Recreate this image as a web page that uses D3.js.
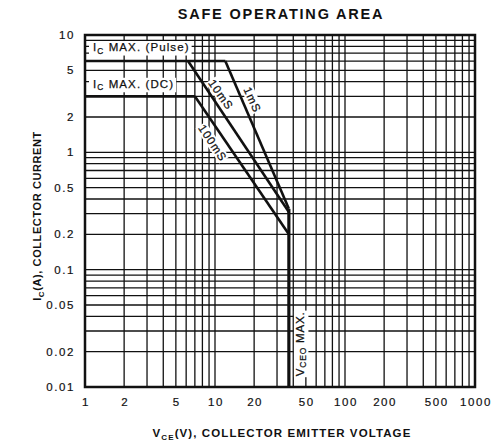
<!DOCTYPE html>
<html>
<head>
<meta charset="utf-8">
<script src="https://cdn.jsdelivr.net/npm/d3@7"></script>
<style>
  body { margin: 0; background: #fff; }
  text { font-family: "Liberation Sans", Arial, sans-serif; fill: #111; }
</style>
</head>
<body>
<div id="chart"></div>
<script>
// tick labels
var xTicks = [1, 2, 5, 10, 20, 50, 100, 200, 500, 1000];
var yTicks = [0.01, 0.02, 0.05, 0.1, 0.2, 0.5, 1, 2, 5, 10];

// boundary curves (VCE, IC)
var pulseMax = [[1, 6], [12, 6]];
var dcMax = [[1, 3], [7, 3]];
var line1ms = [[12, 6], [37, 0.33]];
var line10ms = [[6.2, 6], [37, 0.31]];
var line100ms = [[7, 3], [37, 0.2]];
var vceoMax = [[37, 0.33], [37, 0.01]];

svgWidth = 499;
svgHeight = 444;

margin = { top: 35, bottom: 57, left: 85, right: 24 };

width = svgWidth - margin.left - margin.right;
height = svgHeight - margin.top - margin.bottom;

svg = d3.select("#chart")
    .append("svg")
    .attr("width", svgWidth)
    .attr("height", svgHeight);

chartGroup = svg.append("g")
    .attr("transform", `translate(${margin.left}, ${margin.top})`);

var x = d3.scaleLog().domain([1, 1000]).range([0, width]);
var y = d3.scaleLog().domain([0.01, 10]).range([height, 0]);

//grid
var xGrid = [];
var yGrid = [];
[1, 10, 100].forEach(function (d) {
    for (var i = 1; i <= 9; i++) xGrid.push(d * i);
});
[0.01, 0.1, 1].forEach(function (d) {
    for (var i = 1; i <= 9; i++) yGrid.push(d * i);
});

chartGroup.selectAll(".vgrid")
    .data(xGrid)
    .enter()
    .append("line")
    .attr("x1", d => x(d)).attr("x2", d => x(d))
    .attr("y1", 0).attr("y2", height)
    .attr("stroke", "#111")
    .attr("stroke-width", 1.3);

chartGroup.selectAll(".hgrid")
    .data(yGrid)
    .enter()
    .append("line")
    .attr("x1", 0).attr("x2", width)
    .attr("y1", d => y(d)).attr("y2", d => y(d))
    .attr("stroke", "#111")
    .attr("stroke-width", 1.3);

//frame
chartGroup.append("rect")
    .attr("width", width)
    .attr("height", height)
    .attr("fill", "none")
    .attr("stroke", "#111")
    .attr("stroke-width", 2.5);

//axes labels
chartGroup.selectAll(".xlab")
    .data(xTicks)
    .enter()
    .append("text")
    .attr("x", d => x(d) + 1)
    .attr("y", height + 19)
    .attr("text-anchor", "middle")
    .attr("font-size", 11.5)
    .attr("letter-spacing", 1.6)
    .attr("stroke", "#111")
    .attr("stroke-width", 0.2)
    .text(d => d);

chartGroup.selectAll(".ylab")
    .data(yTicks)
    .enter()
    .append("text")
    .attr("x", -10)
    .attr("y", d => y(d) + 4)
    .attr("text-anchor", "end")
    .attr("font-size", 11.5)
    .attr("letter-spacing", 1.6)
    .attr("stroke", "#111")
    .attr("stroke-width", 0.2)
    .text(d => d);

//label boxes behind annotation text
var lineGen = d3.line().x(d => x(d[0])).y(d => y(d[1]));

function boxLabel(px, py, parts, size) {
    var t = chartGroup.append("text")
        .attr("x", px).attr("y", py)
        .attr("font-size", size)
        .attr("letter-spacing", 1.1)
        .attr("stroke", "#111")
        .attr("stroke-width", 0.25);
    parts.forEach(function (p) {
        t.append("tspan")
            .attr("font-size", p.sub ? size * 0.72 : size)
            .attr("dy", p.sub ? 2.5 : (p.after ? -2.5 : 0))
            .text(p.t);
    });
    var b = t.node().getBBox();
    chartGroup.insert("rect", function () { return t.node(); })
        .attr("x", b.x - 4).attr("y", b.y)
        .attr("width", b.width + 6).attr("height", b.height)
        .attr("fill", "#fff");
    return t;
}

boxLabel(8, y(7.3), [{ t: "I" }, { t: "C", sub: true }, { t: " MAX.  (Pulse)", after: true }], 11.5);
boxLabel(8, y(3.55), [{ t: "I" }, { t: "C", sub: true }, { t: " MAX.  (DC)", after: true }], 11.5);

//curves
[pulseMax, dcMax, line1ms, line10ms, line100ms].forEach(function (c) {
    chartGroup.append("path")
        .attr("d", lineGen(c))
        .attr("fill", "none")
        .attr("stroke", "#111")
        .attr("stroke-width", 2.6);
});
chartGroup.append("path")
    .attr("d", lineGen(vceoMax))
    .attr("fill", "none")
    .attr("stroke", "#111")
    .attr("stroke-width", 3.2);

//rotated annotations
var notes = [
    { t: "1mS", vx: 19.4, vy: 2.8, a: 66 },
    { t: "10mS", vx: 11.1, vy: 3.1, a: 55 },
    { t: "100mS", vx: 9.6, vy: 1.2, a: 56 }
];
notes.forEach(function (n) {
    var g = chartGroup.append("g")
        .attr("transform", `translate(${x(n.vx)}, ${y(n.vy)}) rotate(${n.a})`);
    var t = g.append("text")
        .attr("text-anchor", "middle")
        .attr("y", 4)
        .attr("font-size", 11.5)
        .attr("letter-spacing", 1)
        .attr("stroke", "#111")
        .attr("stroke-width", 0.25)
        .text(n.t);
    var b = t.node().getBBox();
    g.insert("rect", "text")
        .attr("x", b.x - 1).attr("y", b.y)
        .attr("width", b.width + 1).attr("height", b.height)
        .attr("fill", "#fff");
});

var vg = chartGroup.append("g")
    .attr("transform", `translate(${x(45)}, ${y(0.0233)}) rotate(-90)`);
var vt = vg.append("text")
    .attr("text-anchor", "middle")
    .attr("y", 4)
    .attr("font-size", 11.5)
    .attr("letter-spacing", 0.8)
    .attr("stroke", "#111")
    .attr("stroke-width", 0.25);
vt.append("tspan").text("V");
vt.append("tspan").attr("font-size", 8.5).attr("dy", 2.5).text("CEO");
vt.append("tspan").attr("dy", -2.5).text(" MAX.");
var vb = vt.node().getBBox();
vg.insert("rect", "text")
    .attr("x", vb.x - 1).attr("y", vb.y)
    .attr("width", vb.width + 2).attr("height", vb.height)
    .attr("fill", "#fff");

//titles
svg.append("text")
    .attr("x", 281)
    .attr("y", 19)
    .attr("text-anchor", "middle")
    .attr("font-size", 14.5)
    .attr("font-weight", "bold")
    .attr("letter-spacing", 1.8)
    .text("SAFE OPERATING AREA");

var xt = svg.append("text")
    .attr("x", 282)
    .attr("y", 437)
    .attr("text-anchor", "middle")
    .attr("font-size", 11.5)
    .attr("font-weight", "bold")
    .attr("letter-spacing", 1.1);
xt.append("tspan").text("V");
xt.append("tspan").attr("font-size", 8).attr("dy", 2.5).text("CE");
xt.append("tspan").attr("dy", -2.5).text("(V), COLLECTOR EMITTER VOLTAGE");

var yt = svg.append("text")
    .attr("transform", "translate(41, 216) rotate(-90)")
    .attr("text-anchor", "middle")
    .attr("font-size", 11)
    .attr("font-weight", "bold")
    .attr("letter-spacing", 0.6);
yt.append("tspan").text("I");
yt.append("tspan").attr("font-size", 8).attr("dy", 2.5).text("C");
yt.append("tspan").attr("dy", -2.5).text("(A), COLLECTOR CURRENT");
</script>
</body>
</html>
